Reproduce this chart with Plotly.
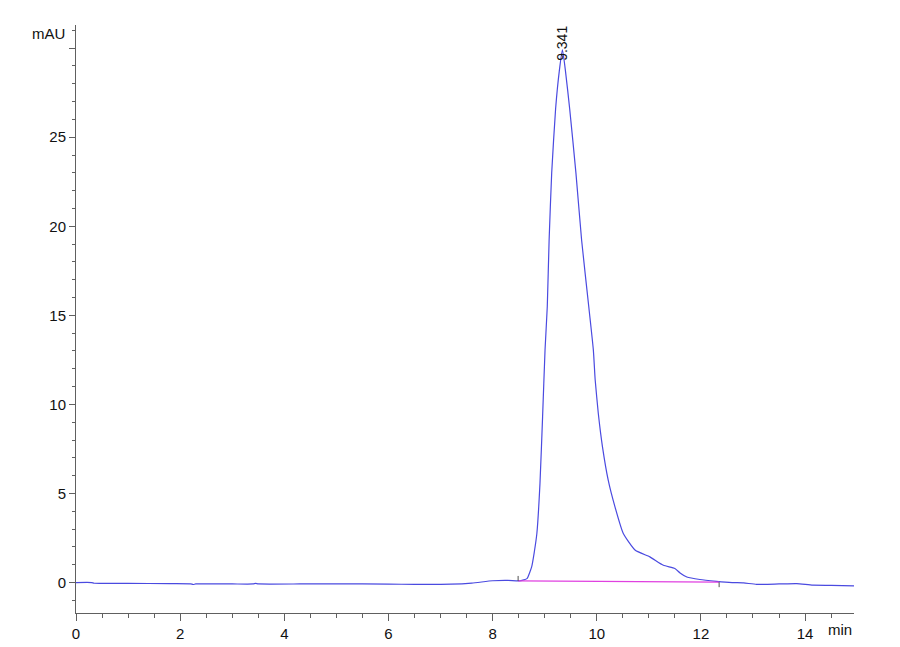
import plotly.graph_objects as go

# Cromatograma - tempo (min) e absorbância (mAU)
time_min = [0.0, 0.3, 0.35, 1.0, 1.8, 2.2, 2.25, 2.3, 3.0, 3.4, 3.45, 3.5, 4.3, 5.0,
            6.0, 6.5, 7.2, 7.6, 8.0, 8.3, 8.5, 8.6, 8.66, 8.75, 8.8, 8.85, 8.91, 8.96,
            9.007, 9.05, 9.085, 9.135, 9.21, 9.28, 9.341, 9.40, 9.48, 9.6, 9.71, 9.85,
            9.935, 9.97, 10.03, 10.11, 10.22, 10.35, 10.51, 10.74, 11.02, 11.28, 11.5,
            11.6, 11.73, 11.98, 12.3, 12.6, 12.82, 13.07, 13.5, 13.84, 14.15, 14.5, 14.95]
signal_mau = [0.0, 0.0, -0.04, -0.05, -0.06, -0.07, -0.11, -0.08, -0.08, -0.08, -0.05, -0.08,
              -0.08, -0.07, -0.09, -0.1, -0.09, -0.03, 0.1, 0.12, 0.09, 0.15, 0.22, 0.88, 1.7,
              2.75, 5.58, 9.3, 13.06, 15.5, 19.2, 23.0, 26.6, 28.7, 29.9, 28.7, 26.6, 23.0,
              19.2, 15.4, 13.05, 11.37, 9.49, 7.62, 5.75, 4.25, 2.75, 1.81, 1.44, 0.97, 0.79,
              0.54, 0.31, 0.17, 0.07, 0.0, -0.02, -0.1, -0.08, -0.06, -0.15, -0.16, -0.19]

# Linha de base da integração (início e fim do pico)
baseline_time = [8.49, 12.35]
baseline_mau = [0.09, 0.02]
marker_len = [0.28, -0.28]

peak_rt = 9.341
peak_height = 29.9

x_ticks = [0, 2, 4, 6, 8, 10, 12, 14]
y_ticks = [0, 5, 10, 15, 20, 25, 30]
y_labels = ['0', '5', '10', '15', '20', '25', '']

axis_color = '#606060'
tick_font = dict(family='Liberation Sans Narrow, Arial Narrow, Liberation Sans, Arial', size=15, color='#111111')

fig = go.Figure()
fig.add_trace(go.Scatter(
    x=time_min, y=signal_mau, mode='lines', line_shape='spline',
    line=dict(color='#4a4ae0', width=1.2, smoothing=0.5), hoverinfo='x+y', showlegend=False
))
fig.add_trace(go.Scatter(
    x=baseline_time, y=baseline_mau, mode='lines',
    line=dict(color='#e040e0', width=1.2), hoverinfo='skip', showlegend=False
))
# marcadores de início/fim do pico
for t, b, d in zip(baseline_time, baseline_mau, marker_len):
    fig.add_trace(go.Scatter(
        x=[t, t], y=[b, b + d], mode='lines',
        line=dict(color='#505050', width=1), hoverinfo='skip', showlegend=False
    ))

fig.add_annotation(
    x=peak_rt, y=peak_height, text='9.341', textangle=-90,
    showarrow=False, yanchor='bottom', yshift=-13,
    font=dict(family='Liberation Sans, Arial', size=14, color='#111111')
)
fig.add_annotation(
    xref='paper', x=0, y=30.8, text='mAU', showarrow=False,
    xanchor='right', xshift=-9, font=tick_font
)
fig.add_annotation(
    xref='paper', yref='paper', x=1, y=0, text='min', showarrow=False,
    xanchor='right', yanchor='top', yshift=-6, font=tick_font
)

fig.update_layout(
    width=900, height=647,
    margin=dict(l=76, r=46, t=25, b=34),
    plot_bgcolor='white', paper_bgcolor='white',
    xaxis=dict(
        range=[0, 14.94], tickvals=x_ticks, ticks='outside', ticklen=7,
        tickcolor=axis_color, showline=True, linecolor=axis_color, linewidth=1,
        showgrid=False, zeroline=False, tickfont=tick_font, automargin=False,
        minor=dict(dtick=0.5, ticks='outside', ticklen=4, tickcolor=axis_color, showgrid=False)
    ),
    yaxis=dict(
        range=[-1.71, 31.3], tickvals=y_ticks, ticktext=y_labels, ticks='outside', ticklen=6,
        tickcolor=axis_color, showline=True, linecolor=axis_color, linewidth=1,
        showgrid=False, zeroline=False, tickfont=tick_font, automargin=False,
        minor=dict(dtick=1, ticks='outside', ticklen=3, tickcolor=axis_color, showgrid=False)
    ),
)

# tira a margem padrão do body para a figura ocupar a janela inteira
fig.write_html("out.html", config={'displayModeBar': False},
               post_script="document.body.style.margin='0';")
